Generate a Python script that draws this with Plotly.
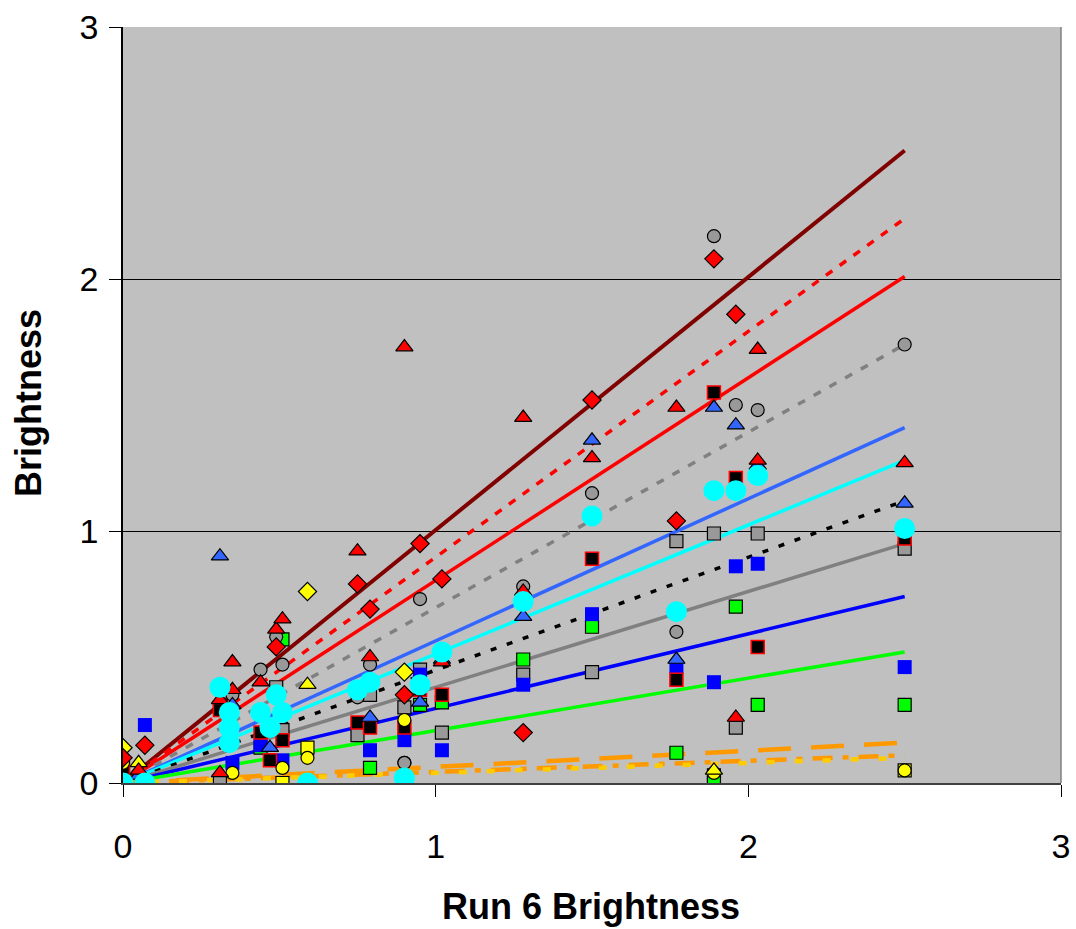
import plotly.graph_objects as go

# ---- marker series (x = Run 6 brightness, y = brightness) ----
red_dia_x = [0.0, 0.07, 0.49, 0.75, 0.79, 0.90, 0.95, 1.02, 1.28, 1.50, 1.77, 1.89, 1.96]
red_dia_y = [0.10, 0.15, 0.54, 0.79, 0.69, 0.35, 0.95, 0.81, 0.20, 1.52, 1.04, 2.08, 1.86]

red_tri_x = [0.05, 0.31, 0.31, 0.35, 0.35, 0.44, 0.49, 0.51, 0.75, 0.79, 0.90, 1.02, 1.28, 1.28, 1.50, 1.77, 1.96, 2.03, 2.03, 2.50]
red_tri_y = [0.05, 0.04, 0.33, 0.48, 0.37, 0.40, 0.61, 0.65, 0.92, 0.50, 1.73, 0.48, 1.45, 0.76, 1.29, 1.49, 0.26, 1.72, 1.28, 1.27]

gray_cir_x = [0.35, 0.44, 0.49, 0.51, 0.75, 0.79, 0.90, 0.95, 1.28, 1.50, 1.77, 1.89, 1.96, 2.03, 2.50]
gray_cir_y = [0.35, 0.45, 0.58, 0.47, 0.34, 0.47, 0.08, 0.73, 0.78, 1.15, 0.60, 2.17, 1.50, 1.48, 1.74]

blue_tri_x = [0.05, 0.31, 0.35, 0.47, 0.79, 0.95, 1.02, 1.28, 1.50, 1.77, 1.89, 1.96, 2.03, 2.50]
blue_tri_y = [0.03, 0.90, 0.31, 0.14, 0.26, 0.32, 0.49, 0.66, 1.36, 0.49, 1.49, 1.42, 1.26, 1.11]

blk_sq_x = [0.0, 0.31, 0.44, 0.47, 0.51, 0.75, 0.79, 0.90, 0.95, 1.02, 1.50, 1.77, 1.89, 1.96, 2.03, 2.50]
blk_sq_y = [0.06, 0.29, 0.20, 0.09, 0.17, 0.24, 0.22, 0.22, 0.37, 0.35, 0.89, 0.41, 1.55, 1.21, 0.54, 0.97]

gray_sq_x = [0.31, 0.49, 0.51, 0.75, 0.79, 0.90, 0.95, 1.02, 1.28, 1.50, 1.77, 1.89, 1.96, 2.03, 2.50]
gray_sq_y = [0.00, 0.38, 0.21, 0.19, 0.35, 0.30, 0.45, 0.20, 0.43, 0.44, 0.96, 0.99, 0.22, 0.99, 0.93]

blue_sq_x = [0.07, 0.35, 0.44, 0.51, 0.79, 0.90, 0.95, 1.02, 1.28, 1.50, 1.77, 1.89, 1.96, 2.03, 2.50]
blue_sq_y = [0.23, 0.08, 0.15, 0.09, 0.13, 0.17, 0.43, 0.13, 0.39, 0.67, 0.46, 0.40, 0.86, 0.87, 0.46]

green_sq_x = [0.31, 0.44, 0.51, 0.79, 0.95, 1.02, 1.28, 1.50, 1.77, 1.89, 1.96, 2.03, 2.50]
green_sq_y = [0.30, 0.14, 0.57, 0.06, 0.31, 0.32, 0.49, 0.62, 0.12, 0.00, 0.70, 0.31, 0.31]

yel_sq_x = [0.0, 0.51, 0.59, 1.89, 2.50]
yel_sq_y = [0.04, 0.00, 0.14, 0.03, 0.05]

yel_cir_x = [0.0, 0.35, 0.51, 0.59, 0.90, 0.90, 1.89, 2.50]
yel_cir_y = [0.08, 0.04, 0.06, 0.10, 0.08, 0.25, 0.04, 0.05]

yel_tri_x = [0.05, 0.59, 1.89]
yel_tri_y = [0.08, 0.39, 0.05]

yel_dia_x = [0.0, 0.59, 0.90]
yel_dia_y = [0.14, 0.76, 0.44]

cyan_x = [0.0, 0.07, 0.31, 0.34, 0.34, 0.34, 0.44, 0.47, 0.49, 0.51, 0.59, 0.75, 0.79, 0.90, 0.95, 1.02, 1.28, 1.50, 1.77, 1.89, 1.96, 2.03, 2.50]
cyan_y = [0.00, 0.00, 0.38, 0.28, 0.22, 0.16, 0.28, 0.22, 0.35, 0.28, 0.00, 0.37, 0.40, 0.02, 0.39, 0.52, 0.72, 1.06, 0.68, 1.16, 1.16, 1.22, 1.01]

# ---- trend lines: value reached at x = 2.5 ----
trend_x = [0.0, 2.5]
trend_end = {
    "darkred": 2.51, "reddot": 2.24, "red": 2.01, "graydot": 1.74,
    "lightblue": 1.41, "cyan": 1.28, "blackdot": 1.12, "gray": 0.95,
    "blue": 0.74, "green": 0.52, "orangedash": 0.16, "orangedashdot": 0.11,
    "golddash": 0.10,
}
trend_style = {
    "darkred": dict(color="#800000", width=4),
    "reddot": dict(color="#FF0000", width=3.5, dash="8px,9px"),
    "red": dict(color="#FF0000", width=3.5),
    "graydot": dict(color="#808080", width=3.5, dash="8px,10px"),
    "lightblue": dict(color="#3366FF", width=3.5),
    "cyan": dict(color="#00FFFF", width=3.5),
    "blackdot": dict(color="#000000", width=3.5, dash="6px,11px"),
    "gray": dict(color="#808080", width=3.5),
    "blue": dict(color="#0000FF", width=3.5),
    "green": dict(color="#00FF00", width=3.5),
    "orangedash": dict(color="#FF9900", width=4.5, dash="33px,20px"),
    "orangedashdot": dict(color="#FF9900", width=4.5, dash="20px,10px,6px,10px"),
    "golddash": dict(color="#FFCC00", width=4.5, dash="8px,20px"),
}

fig = go.Figure()
for key, end in trend_end.items():
    fig.add_trace(go.Scatter(x=trend_x, y=[0.0, end], mode="lines",
                             line=trend_style[key], hoverinfo="skip"))

def add_markers(x, y, symbol, color, size, lc="black", lw=1.2):
    fig.add_trace(go.Scatter(x=x, y=y, mode="markers",
                             marker=dict(symbol=symbol, color=color, size=size,
                                         line=dict(color=lc, width=lw))))

add_markers(yel_sq_x, yel_sq_y, "square", "#FFFF00", 13)
add_markers(green_sq_x, green_sq_y, "square", "#00FF00", 13)
add_markers(gray_sq_x, gray_sq_y, "square", "#999999", 13)
add_markers(blue_sq_x, blue_sq_y, "square", "#0000FF", 14, lc="#0000FF", lw=0)
add_markers(blk_sq_x, blk_sq_y, "square", "#000000", 13, lc="#FF0000", lw=1.5)
add_markers(yel_cir_x, yel_cir_y, "circle", "#FFFF00", 13)
add_markers(gray_cir_x, gray_cir_y, "circle", "#999999", 13)
add_markers(yel_tri_x, yel_tri_y, "triangle-up", "#FFFF00", 15)
add_markers(blue_tri_x, blue_tri_y, "triangle-up", "#3366FF", 15)
add_markers(red_tri_x, red_tri_y, "triangle-up", "#FF0000", 15)
add_markers(yel_dia_x, yel_dia_y, "diamond", "#FFFF00", 14)
add_markers(red_dia_x, red_dia_y, "diamond", "#FF0000", 14)
add_markers(cyan_x, cyan_y, "circle", "#00FFFF", 21, lc="#00FFFF", lw=0)

font = "Liberation Sans, Arial, sans-serif"
fig.update_layout(
    width=1076, height=929,
    margin=dict(l=123, r=15, t=27, b=146, autoexpand=False),
    paper_bgcolor="white", plot_bgcolor="#C0C0C0",
    showlegend=False,
    font=dict(family=font, size=34, color="black"),
    xaxis=dict(range=[0, 3], tickvals=[0, 1, 2, 3], showgrid=False, zeroline=False,
               showline=True, linecolor="#404040", linewidth=1.5,
               ticks="outside", ticklen=12, tickcolor="black",
               ticklabelstandoff=20, tickfont=dict(size=34)),
    yaxis=dict(range=[0, 3], tickvals=[0, 1, 2, 3], showgrid=True, gridcolor="black",
               gridwidth=1, zeroline=False, showline=True, linecolor="black", linewidth=1.5,
               ticks="outside", ticklen=12, tickcolor="black",
               ticklabelstandoff=4, tickfont=dict(size=34)),
    shapes=[dict(type="line", xref="paper", yref="paper", x0=1, x1=1, y0=0, y1=1,
                 line=dict(color="#808080", width=1.5))],
    annotations=[
        dict(text="<b>Run 6 Brightness</b>", xref="paper", yref="paper",
             x=(591 - 123) / 938, y=-(906 - 783) / 756, xanchor="center", yanchor="middle",
             showarrow=False, font=dict(size=36, family=font)),
        dict(text="<b>Brightness</b>", xref="paper", yref="paper",
             x=-(123 - 28) / 938, y=(783 - 403) / 756, xanchor="center", yanchor="middle",
             textangle=-90, showarrow=False, font=dict(size=36, family=font)),
    ],
)

fig.write_html("out.html")
